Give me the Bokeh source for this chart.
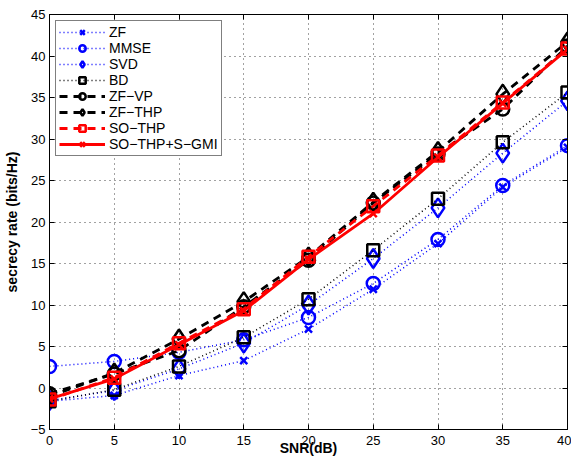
from bokeh.plotting import figure
from bokeh.models import Legend, LegendItem, LinearAxis, Range1d, FixedTicker
from bokeh.embed import file_html
from bokeh.resources import INLINE

snr = [0, 5, 10, 15, 20, 25, 30, 35, 40]
zf = [-1.6, -0.9, 1.5, 3.3, 7.1, 11.9, 17.4, 24.2, 29.0]
mmse = [2.6, 3.2, 4.3, 5.8, 8.5, 12.6, 17.9, 24.4, 29.2]
svd = [-1.5, -0.3, 2.3, 5.4, 10.0, 15.6, 21.7, 28.3, 34.6]
bd = [-1.6, -0.2, 2.6, 6.1, 10.7, 16.6, 22.8, 29.6, 35.6]
zf_vp = [-0.7, 1.7, 4.5, 9.8, 15.4, 22.3, 28.2, 33.6, 41.2]
zf_thp = [-1.0, 1.8, 5.9, 10.4, 15.8, 22.4, 28.5, 35.4, 41.7]
so_thp = [-1.4, 1.25, 5.4, 9.5, 15.8, 21.9, 28.0, 34.4, 40.9]
so_thp_sgmi = [-1.3, 1.1, 5.2, 9.3, 15.5, 21.0, 27.8, 34.3, 40.8]

x_ticks = [0, 5, 10, 15, 20, 25, 30, 35, 40]
y_ticks = [-5, 0, 5, 10, 15, 20, 25, 30, 35, 40, 45]

FONT = "Liberation Sans"

p = figure(width=571, height=458, output_backend="svg", toolbar_location=None,
           x_range=Range1d(0, 40), y_range=Range1d(-5, 45),
           min_border_left=48, min_border_top=14, min_border_right=4, min_border_bottom=20)
p.outline_line_color = "black"
p.outline_line_width = 1
p.background_fill_color = "white"
p.border_fill_color = "white"

for ax in (p.xaxis[0], p.yaxis[0]):
    ax.major_tick_in = 5
    ax.major_tick_out = 0
    ax.minor_tick_line_color = None
    ax.axis_line_color = "black"
    ax.major_tick_line_color = "black"
    ax.major_label_text_font = FONT
    ax.major_label_text_font_size = "13px"
    ax.major_label_text_color = "black"
    ax.axis_label_text_font = FONT
    ax.axis_label_text_font_size = "14px"
    ax.axis_label_text_font_style = "bold"
    ax.axis_label_text_color = "black"
p.xaxis[0].ticker = FixedTicker(ticks=x_ticks)
p.yaxis[0].ticker = FixedTicker(ticks=y_ticks)
p.xaxis[0].axis_label = "SNR(dB)"
p.yaxis[0].axis_label = "secrecy rate (bits/Hz)"
p.xaxis[0].major_label_standoff = 6
p.xaxis[0].axis_label_standoff = -8
p.yaxis[0].major_label_standoff = 4
p.yaxis[0].axis_label_standoff = 8

top = LinearAxis(ticker=FixedTicker(ticks=x_ticks), major_label_text_color=None,
                 major_label_text_font_size="1px",
                 major_tick_in=5, major_tick_out=0, minor_tick_line_color=None,
                 axis_line_color="black", major_label_standoff=0)
right = LinearAxis(ticker=FixedTicker(ticks=y_ticks), major_label_text_color=None,
                   major_label_text_font_size="1px",
                   major_tick_in=5, major_tick_out=0, minor_tick_line_color=None,
                   axis_line_color="black", major_label_standoff=0)
p.add_layout(top, "above")
p.add_layout(right, "right")

p.xgrid.ticker = FixedTicker(ticks=x_ticks)
p.ygrid.ticker = FixedTicker(ticks=y_ticks)
for g in (p.xgrid[0], p.ygrid[0]):
    g.grid_line_color = "#444444"
    g.grid_line_dash = "1 4"
    g.grid_line_width = 1

series = [
    ("ZF", zf, "blue", "1 3", 1.5, "x", 10),
    ("MMSE", mmse, "blue", "1 3", 1.5, "circle", 13),
    ("SVD", svd, "blue", "1 3", 1.5, "diamond", 19),
    ("BD", bd, "black", "1 3", 1.5, "square", 12),
    ("ZF\u2212VP", zf_vp, "black", "8 6", 2.8, "circle", 13),
    ("ZF\u2212THP", zf_thp, "black", "8 6", 2.8, "diamond", 19),
    ("SO\u2212THP", so_thp, "red", "8 6", 2.8, "square", 12),
    ("SO\u2212THP+S\u2212GMI", so_thp_sgmi, "red", "solid", 2.8, "x", 10),
]

items = []
for name, ys, color, dash, lw, marker, size in series:
    r1 = p.line(snr, ys, line_color=color, line_dash=dash, line_width=lw)
    r2 = p.scatter(snr, ys, marker=marker, size=size, line_color=color,
                   fill_color=None, line_width=2.5)
    items.append(LegendItem(label=name, renderers=[r1, r2]))

legend = Legend(items=items, location="top_left")
legend.margin = 6
legend.padding = 3
legend.spacing = 0
legend.glyph_height = 16
legend.glyph_width = 46
legend.label_height = 16
legend.label_standoff = 4
legend.label_text_font = FONT
legend.label_text_font_size = "14px"
legend.label_text_color = "black"
legend.border_line_color = "black"
legend.border_line_width = 1.5
legend.background_fill_color = "white"
legend.background_fill_alpha = 1
p.add_layout(legend)

open("out.html", "w").write(file_html(p, INLINE))
